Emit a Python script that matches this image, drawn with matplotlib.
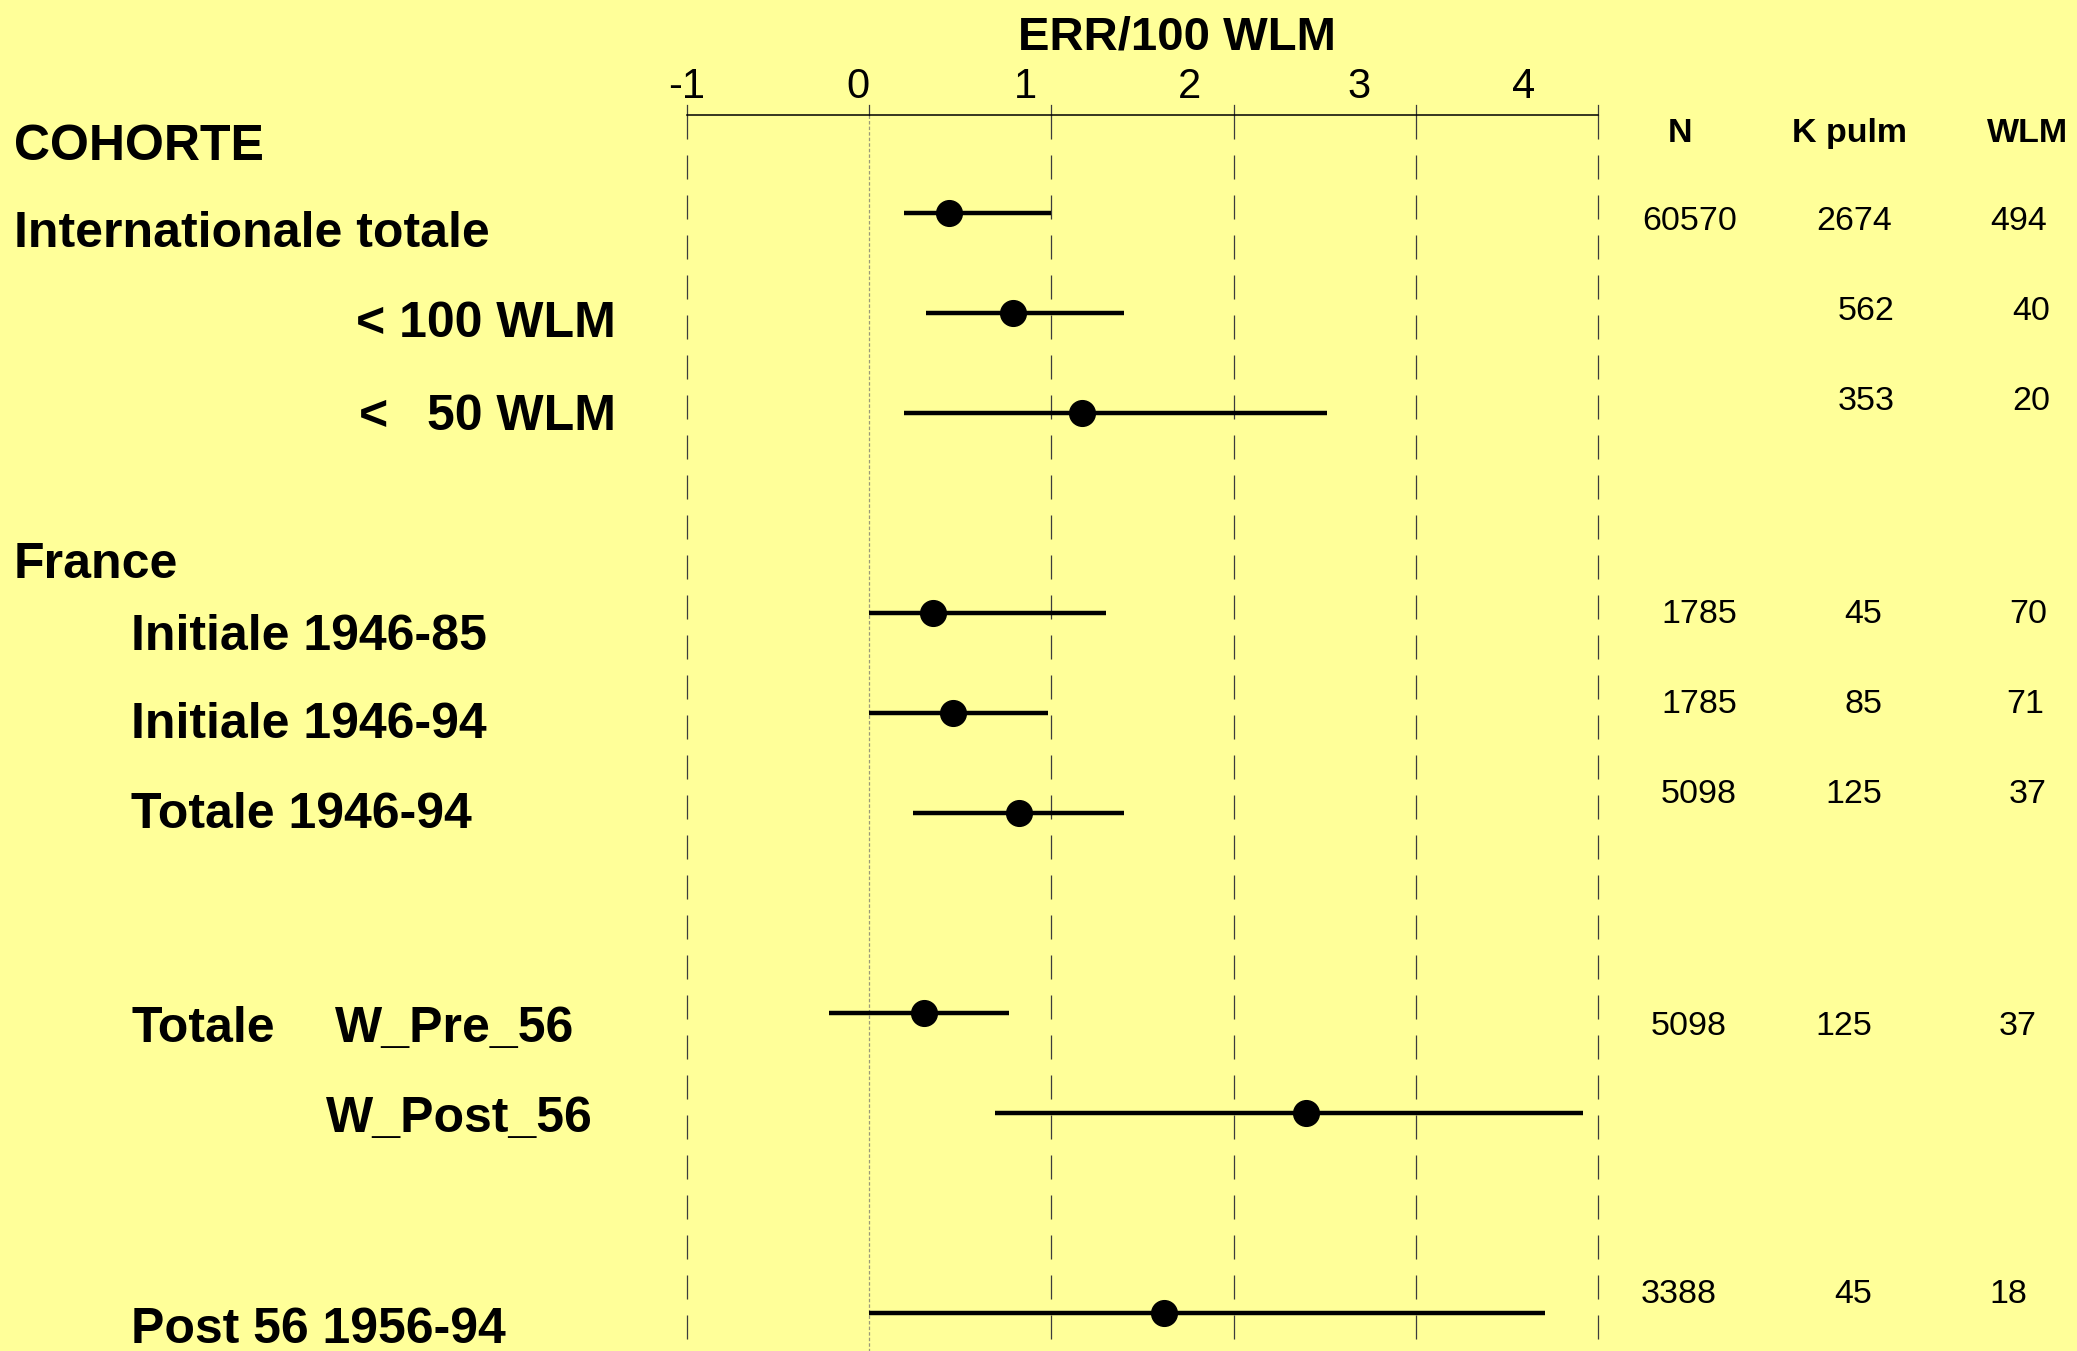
import numpy as np
import matplotlib.pyplot as plt
from matplotlib import font_manager

W, H = 2077, 1351
BG = '#ffff99'

names = {f.name for f in font_manager.fontManager.ttflist}
narrow = 'Liberation Sans Narrow' if 'Liberation Sans Narrow' in names else 'Liberation Sans'
plain = 'Liberation Sans'

# rows of the forest plot (top to bottom), ERR/100 WLM with CI
row_pos = [0, 1, 2, 4, 5, 6, 8, 9, 11]
err = [0.44, 0.79, 1.17, 0.35, 0.46, 0.82, 0.30, 2.40, 1.62]
ci_lo = [0.19, 0.31, 0.19, 0.0, 0.0, 0.24, -0.22, 0.69, 0.0]
ci_hi = [1.00, 1.40, 2.51, 1.30, 0.98, 1.40, 0.77, 3.92, 3.71]

col_n = ['60570', '', '', '1785', '1785', '5098', '5098', '', '3388']
col_k = ['2674', '562', '353', '45', '85', '125', '125', '', '45']
col_w = ['494', '40', '20', '70', '71', '37', '37', '', '18']
col_heads = ['N', 'K pulm', 'WLM']

grid_x = [-1, 0, 1, 2, 3, 4]
tick_labels = ['-1', '0', '1', '2', '3', '4']
tick_pos = [-1.0, -0.06, 0.86, 1.76, 2.69, 3.59]

# left labels: text, x px, baseline px
labels = [('COHORTE', 14, 160), ('Internationale totale', 14, 247),
          ('France', 14, 578), ('Initiale 1946-85', 131, 650),
          ('Initiale 1946-94', 131, 738), ('Totale 1946-94', 131, 828),
          ('Totale', 131, 1042), ('W_Pre_56', 335, 1042),
          ('W_Post_56', 326, 1132), ('Post 56 1956-94', 131, 1343),
          ('<', 359, 430)]
labels_right = [('< 100 WLM', 616, 337), ('50 WLM', 616, 430)]

# right columns layout: right edges per row and baseline
num_base = [230, 320, 410, 623, 713, 803, 1035, None, 1303]
right_n = [1737, 0, 0, 1737, 1737, 1737, 1727, 0, 1717]
right_k = [1892, 1895, 1895, 1882, 1882, 1882, 1872, 0, 1872]
right_w = [2047, 2050, 2050, 2047, 2044, 2047, 2037, 0, 2027]
head_x = [1680, 1849, 2028]

fig = plt.figure(figsize=(W / 100, H / 100), dpi=100, facecolor=BG)
ax_top = 115
ax = fig.add_axes([687 / W, 0, (1598 - 687) / W, 1 - ax_top / H])
ax.set_facecolor(BG)
y_top = (ax_top - 213) / 100
y_bot = y_top + (H - ax_top) / 100
ax.set_xlim(-1, 4)
ax.set_ylim(y_bot, y_top)
ax.axis('off')

plt.rcParams['lines.scale_dashes'] = False
for g in grid_x:
    if g == 0:
        ax.plot([g, g], [y_top, y_bot], color='#9a9a7a', lw=0.9,
                linestyle=(0, (2.5, 1.5)), clip_on=False)
    else:
        ax.plot([g, g], [y_top, y_bot], color='#3c3c3c', lw=0.9,
                linestyle=(0, (17.3, 11.5)), clip_on=False)
    ax.plot([g, g], [y_top - 0.1, y_top], color='#3c3c3c', lw=0.9, clip_on=False)
ax.plot([-1, 4], [y_top, y_top], color='black', lw=1.1, clip_on=False)

ax.hlines(row_pos, ci_lo, ci_hi, color='black', lw=3.2)
ax.plot(err, row_pos, 'o', color='black', markersize=18.5)

for t, p in zip(tick_labels, tick_pos):
    ax.text(p, y_top - 0.17, t, ha='center', va='baseline', fontsize=30,
            family=narrow, clip_on=False)


def fx(x):
    return x / W


def fy(y):
    return 1 - y / H


fig.text(fx(1177), fy(50), 'ERR/100 WLM', ha='center', va='baseline',
         fontsize=34, fontweight='bold', family=narrow)

for t, x, y in labels:
    fig.text(fx(x), fy(y), t, ha='left', va='baseline', fontsize=36,
             fontweight='bold', family=narrow)
for t, x, y in labels_right:
    fig.text(fx(x), fy(y), t, ha='right', va='baseline', fontsize=36,
             fontweight='bold', family=narrow)

for t, x in zip(col_heads, head_x):
    fig.text(fx(x), fy(142), t, ha='center', va='baseline', fontsize=24.5,
             fontweight='bold', family=plain)

for i in range(len(row_pos)):
    if num_base[i] is None:
        continue
    for vals, rx in [(col_n, right_n), (col_k, right_k), (col_w, right_w)]:
        if vals[i]:
            fig.text(fx(rx[i]), fy(num_base[i]), vals[i], ha='right', va='baseline',
                     fontsize=24.5, family=plain)

fig.savefig('out.png', dpi=100, facecolor=BG)
